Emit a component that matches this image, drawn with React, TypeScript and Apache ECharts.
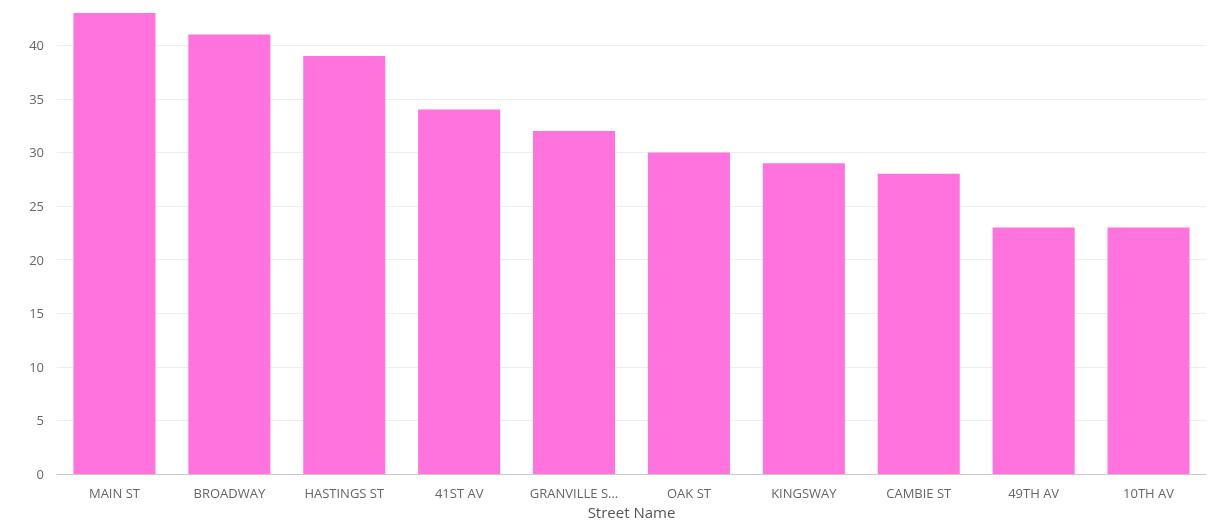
import React, { useEffect, useRef } from "react";
import * as echarts from "echarts";

const streets = ["MAIN ST", "BROADWAY", "HASTINGS ST", "41ST AV", "GRANVILLE ST", "OAK ST", "KINGSWAY", "CAMBIE ST", "49TH AV", "10TH AV"];
const counts = [43, 41, 39, 34, 32, 30, 29, 28, 23, 23];
const yTicks = [0, 5, 10, 15, 20, 25, 30, 35, 40];

export default function App() {
  const ref = useRef<HTMLDivElement>(null);
  useEffect(() => {
    if (!ref.current) return;
    const chart = echarts.init(ref.current, undefined, { renderer: "svg" });
    const font = "'Segoe UI', 'Open Sans', 'Noto Sans', sans-serif";
    const gridColors = yTicks.map(() => "#eeeeee").concat(["rgba(0,0,0,0)"]);
    chart.setOption({
      animation: false,
      grid: { left: 57, right: 5, top: 13, bottom: 45, containLabel: false },
      xAxis: {
        type: "category",
        data: streets,
        name: "Street Name",
        nameLocation: "middle",
        nameGap: 28,
        nameTextStyle: { color: "#555", fontSize: 15, fontFamily: font },
        axisLine: { lineStyle: { color: "#c8c8c8" } },
        axisTick: { alignWithLabel: true, length: 4, lineStyle: { color: "#c8c8c8" } },
        axisLabel: {
          color: "#666",
          fontSize: 13,
          fontFamily: font,
          margin: 12,
          interval: 0,
          formatter: (v: string) => (v.length > 11 ? v.slice(0, 11) + "..." : v),
        },
      },
      yAxis: {
        type: "value",
        min: 0,
        max: 43,
        interval: 5,
        axisLine: { show: false },
        axisTick: { show: false },
        axisLabel: { color: "#666", fontSize: 13, fontFamily: font, margin: 13, showMaxLabel: false },
        splitLine: { lineStyle: { color: gridColors, width: 1 } },
      },
      series: [
        {
          type: "bar",
          data: counts,
          barCategoryGap: "28.6%",
          itemStyle: { color: "#FF73DF" },
        },
      ],
    });
    return () => chart.dispose();
  }, []);
  return <div ref={ref} style={{ position: "fixed", left: 0, top: 0, width: 1211, height: 524 }} />;
}
